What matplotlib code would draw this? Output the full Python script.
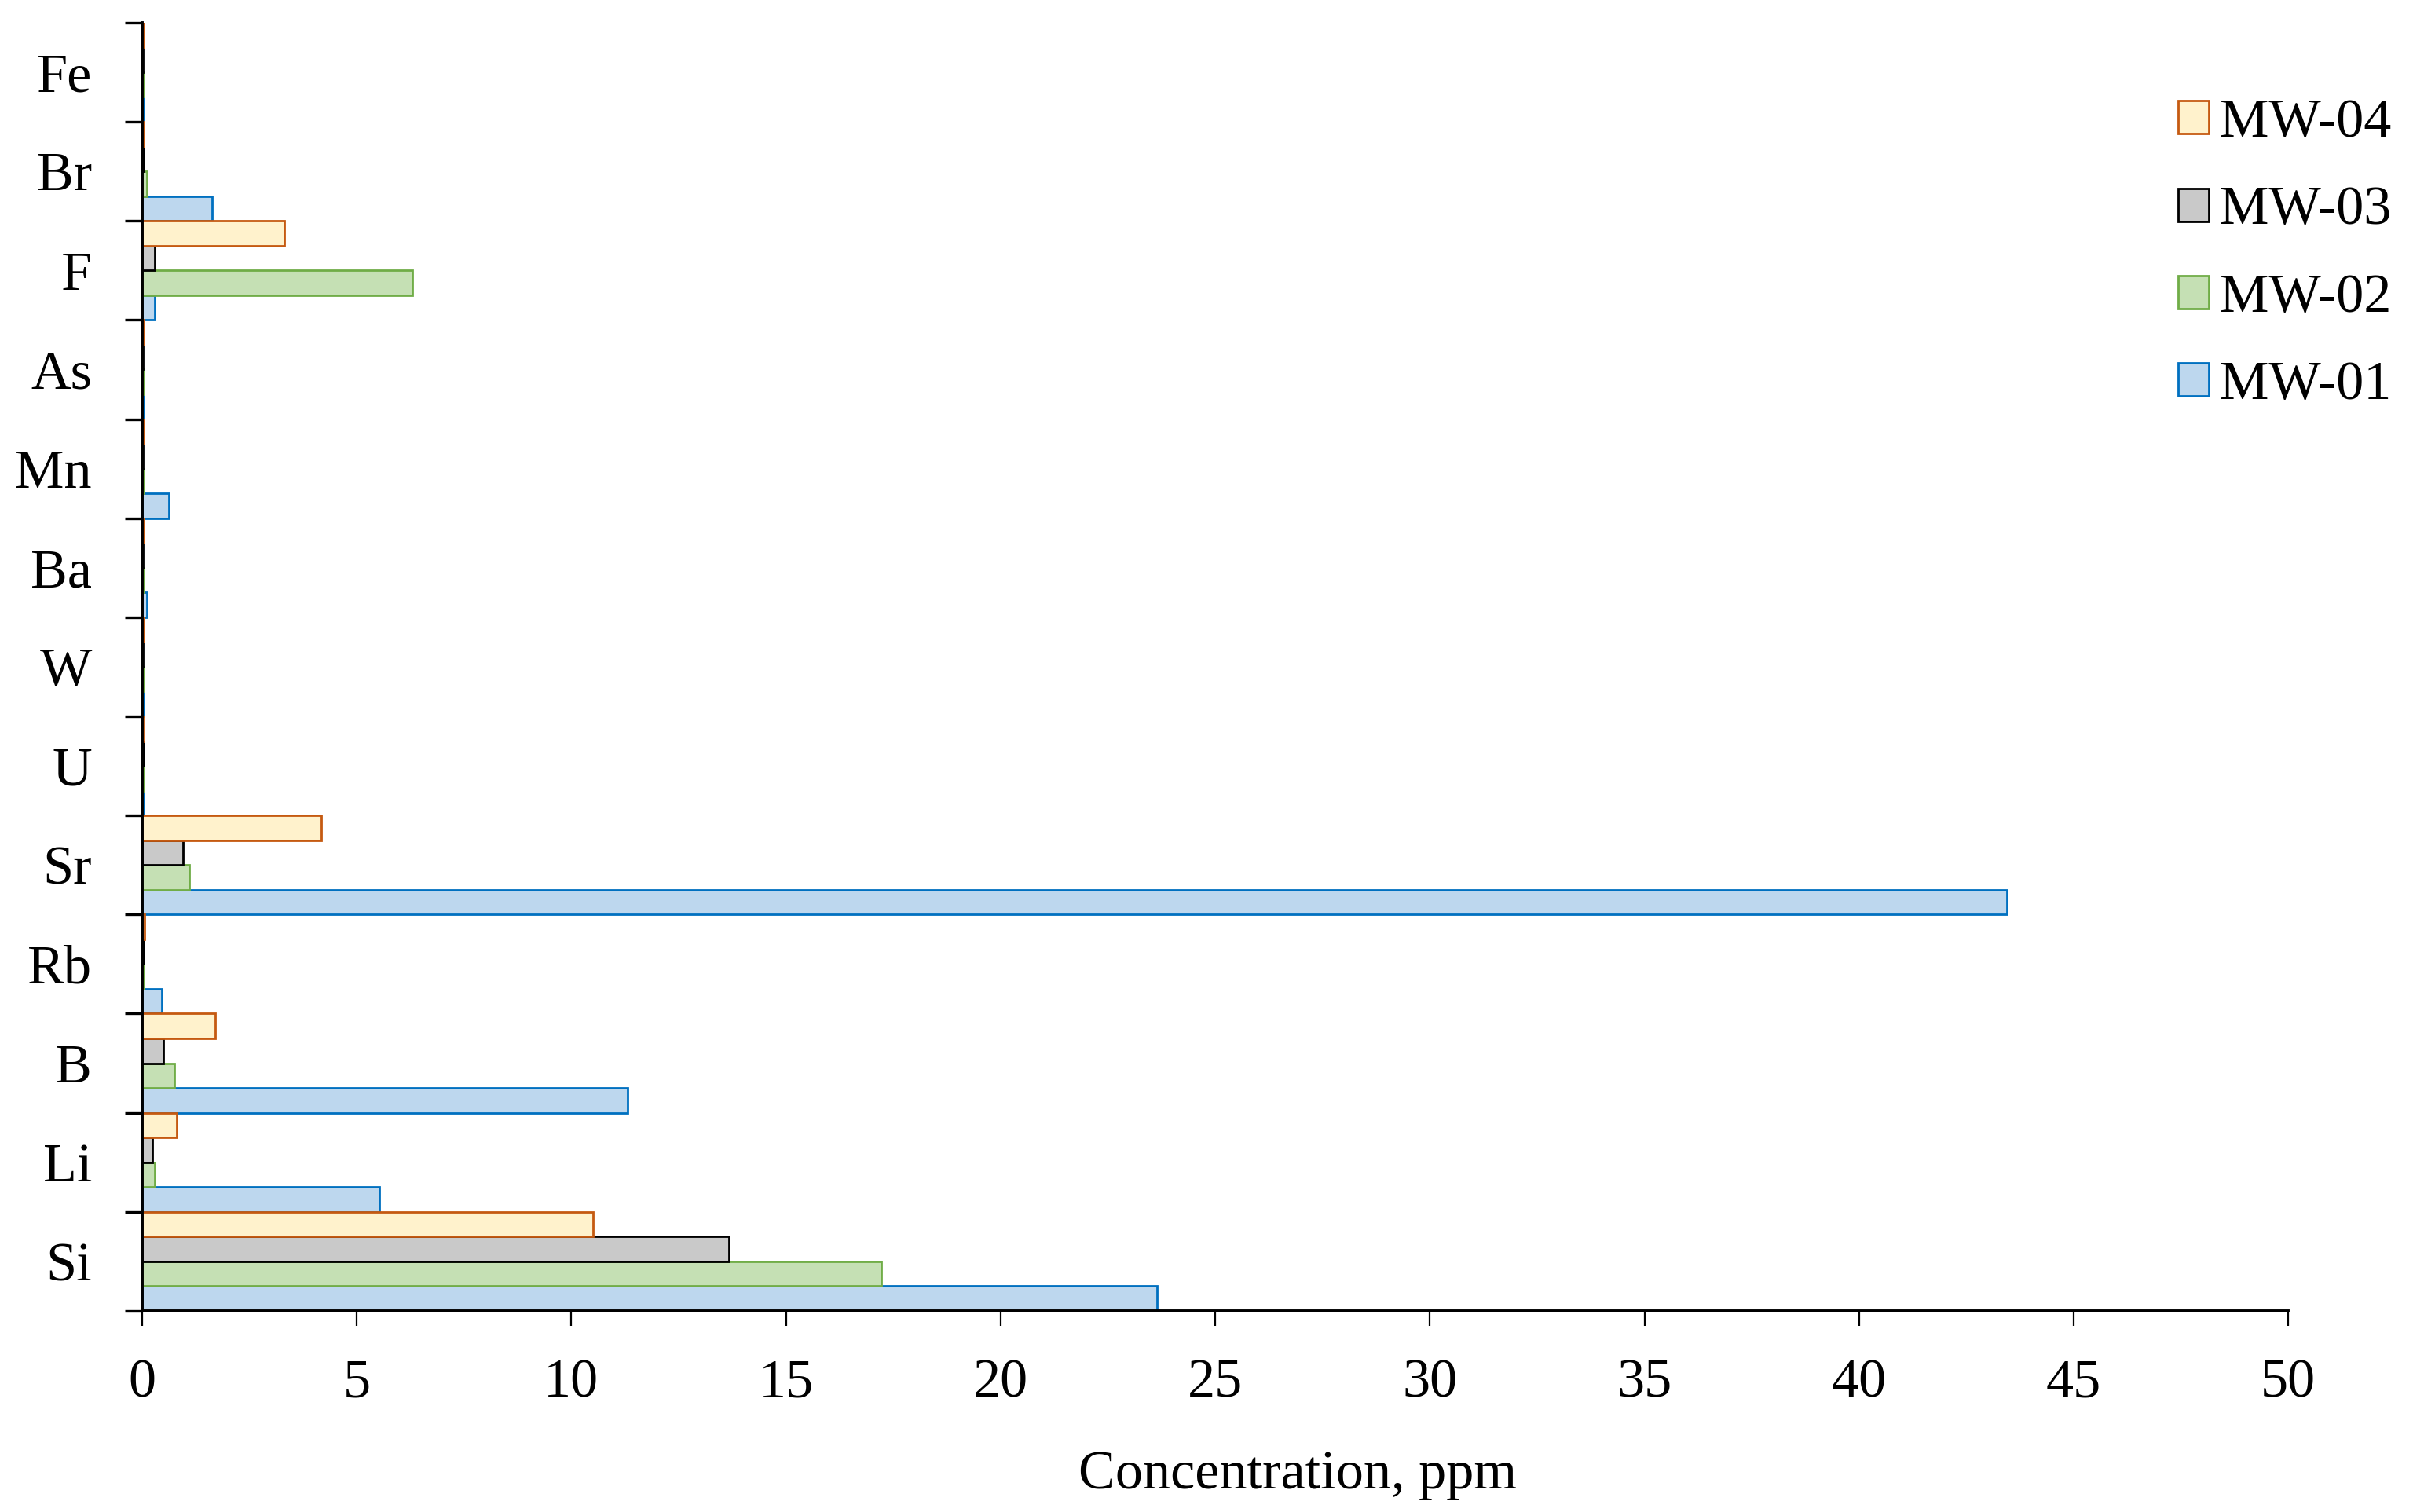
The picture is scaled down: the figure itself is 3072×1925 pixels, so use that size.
import matplotlib.pyplot as plt
import numpy as np

plt.rcParams['font.family'] = ['Liberation Serif', 'DejaVu Serif']

elements = ['Si', 'Li', 'B', 'Rb', 'Sr', 'U', 'W', 'Ba', 'Mn', 'As', 'F', 'Br', 'Fe']
mw01 = [23.64, 5.52, 11.31, 0.46, 43.44, 0.03, 0.03, 0.12, 0.63, 0.03, 0.29, 1.63, 0.03]
mw02 = [17.22, 0.29, 0.75, 0.03, 1.09, 0.03, 0.03, 0.03, 0.03, 0.03, 6.30, 0.12, 0.03]
mw03 = [13.67, 0.23, 0.50, 0.03, 0.95, 0.03, 0.02, 0.02, 0.02, 0.02, 0.29, 0.03, 0.02]
mw04 = [10.51, 0.80, 1.70, 0.05, 4.17, 0.02, 0.03, 0.03, 0.03, 0.03, 3.32, 0.03, 0.03]
series = ['MW-01', 'MW-02', 'MW-03', 'MW-04']
xticks = [0, 5, 10, 15, 20, 25, 30, 35, 40, 45, 50]

fills = ['#BDD7EE', '#C5E0B4', '#C9C9C9', '#FFF2CC']
edges = ['#0070C0', '#70AD47', '#000000', '#C55A11']
fs = 25.3

fig = plt.figure(figsize=(15.36, 9.625), dpi=200)
ax = fig.add_axes([0.0589, 0.133, 0.8894, 0.852])

y = np.arange(len(elements))
h = 0.25
handles = []
for i, vals in enumerate([mw01, mw02, mw03, mw04]):
    b = ax.barh(y - 0.375 + i * h, vals, height=h, color=fills[i],
                edgecolor=edges[i], linewidth=1.0, label=series[i])
    handles.append(b)

ax.set_xlim(0, 50)
ax.set_ylim(-0.5, len(elements) - 0.5)
ax.set_xticks(xticks)
ax.set_xticklabels([str(t) for t in xticks])
ax.set_yticks(np.arange(-0.5, len(elements), 1.0))
ax.set_yticklabels([])
ax.set_yticks(y, minor=True)
ax.set_yticklabels(elements, minor=True)

ax.tick_params(axis='x', which='major', direction='out', length=7, width=0.8,
               pad=15, labelsize=fs)
ax.tick_params(axis='y', which='major', direction='out', length=8, width=1.2)
ax.tick_params(axis='y', which='minor', length=0, pad=23, labelsize=fs)

for s in ['top', 'right']:
    ax.spines[s].set_visible(False)
for s in ['left', 'bottom']:
    ax.spines[s].set_linewidth(1.4)
    ax.spines[s].set_color('black')

fig.text(0.5378, 0.0156, 'Concentration, ppm', ha='center', va='baseline',
         fontsize=fs)

fig.legend(handles[::-1], series[::-1], loc='center left',
           bbox_to_anchor=(0.9027, 0.8315), bbox_transform=fig.transFigure,
           frameon=False, fontsize=fs, handlelength=0.55, handleheight=0.54,
           handletextpad=0.2, labelspacing=0.68, borderpad=0, borderaxespad=0)

fig.savefig('out.png', dpi=200)
